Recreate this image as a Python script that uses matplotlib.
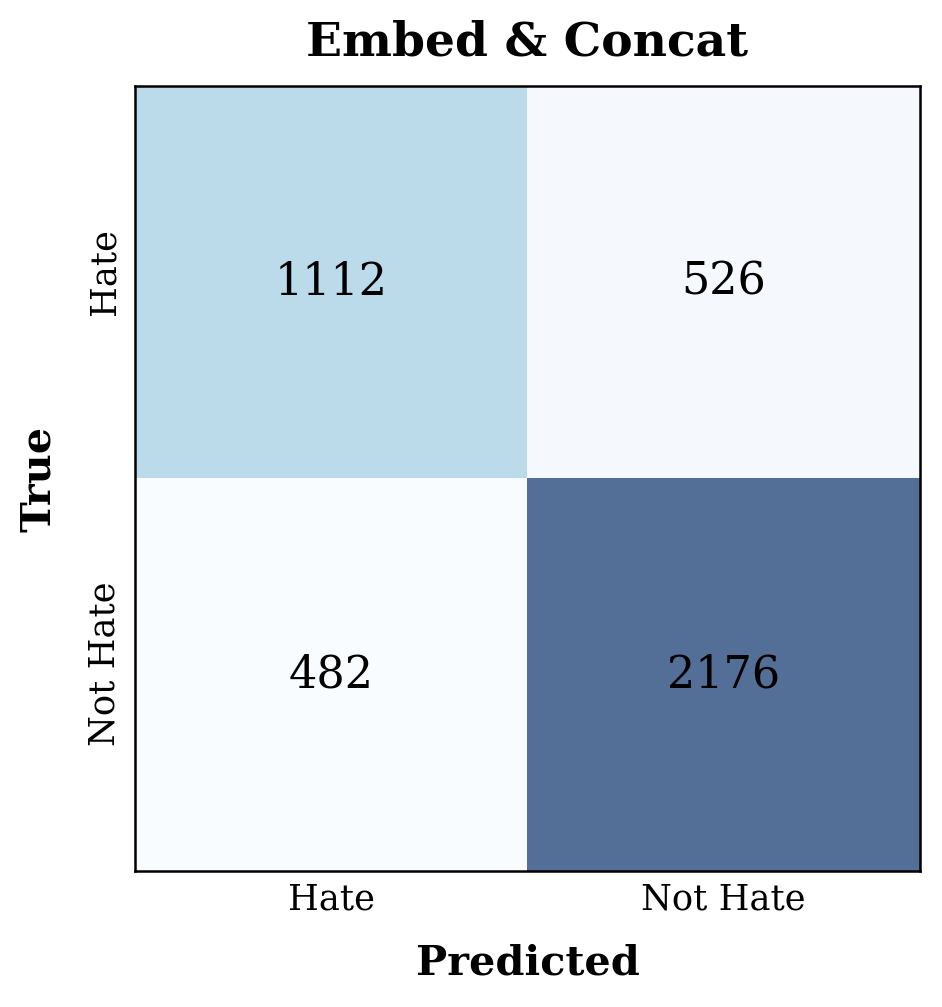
import matplotlib
matplotlib.use("Agg")
import matplotlib.pyplot as plt
import matplotlib.transforms as mtransforms
import numpy as np

# confusion matrix values (rows = true, cols = predicted)
classes = ["Hate", "Not Hate"]
row_hate = [1112, 526]
row_not_hate = [482, 2176]
title = "Embed & Concat"

cm = np.array([row_hate, row_not_hate])

plt.rcParams["font.family"] = "DejaVu Serif"

fig = plt.figure(figsize=(4.71, 5.035), dpi=200)
ax = fig.add_axes([0.1433, 0.1351, 0.8333, 0.7795])

ax.imshow(cm, cmap="Blues", alpha=0.7, vmin=cm.min(), vmax=cm.max(), aspect="auto")

# numbers in the cells
for i in range(cm.shape[0]):
    for j in range(cm.shape[1]):
        ax.text(j, i, str(cm[i, j]), ha="center", va="center", fontsize=16, color="black")

ax.set_xticks(range(len(classes)))
ax.set_yticks(range(len(classes)))
ax.set_xticklabels(classes, fontsize=12.7)
ax.set_yticklabels(classes, fontsize=12.7, rotation=90, va="center")
ax.tick_params(axis="x", length=0, pad=4)
ax.tick_params(axis="y", length=0, pad=5)

# y labels sit a little above the cell centre in the original
shift = mtransforms.ScaledTranslation(0, 4 / 72, fig.dpi_scale_trans)
for lbl in ax.get_yticklabels():
    lbl.set_transform(lbl.get_transform() + shift)

for s in ax.spines.values():
    s.set_linewidth(0.9)
    s.set_color("black")

ax.set_xlabel("Predicted", fontsize=14.9, fontweight="bold", labelpad=10)
ax.set_ylabel("True", fontsize=14.9, fontweight="bold", labelpad=10)
ax.set_title(title, fontsize=17, fontweight="bold", pad=11)

fig.savefig("out.png", dpi=200)
